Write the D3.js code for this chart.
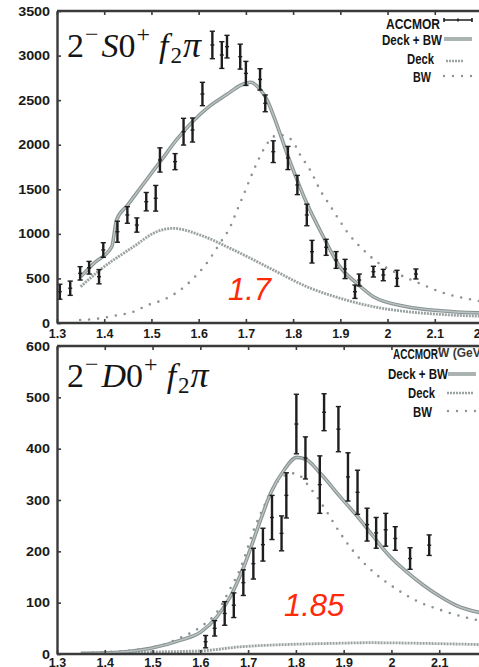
<!DOCTYPE html>
<html>
<head>
<meta charset="utf-8">
<script src="https://cdn.jsdelivr.net/npm/d3@7"></script>
<style>
body { margin: 0; background: #fff; }
svg { display: block; }
</style>
</head>
<body>
<script>
// ---- top panel: 2- S0+ f2 pi ----
var topMass = [1.306, 1.328, 1.349, 1.368, 1.389, 1.398, 1.428, 1.449, 1.469, 1.489, 1.509, 1.518, 1.550,
               1.568, 1.587, 1.608, 1.629, 1.649, 1.660, 1.688, 1.700, 1.730, 1.741, 1.758, 1.789, 1.809,
               1.829, 1.840, 1.870, 1.891, 1.910, 1.931, 1.940, 1.970, 1.991, 2.020, 2.060];
var topVal = [351, 390, 557, 620, 519, 819, 1024, 1212, 1099, 1361, 1399, 1829, 1810,
              2146, 2165, 2569, 3119, 3006, 3100, 2988, 2800, 2733, 2464, 1922, 1851, 1548,
              1212, 800, 849, 707, 606, 351, 482, 576, 538, 501, 550];
var topErr = [84, 80, 75, 71, 80, 82, 118, 93, 80, 103, 144, 136, 90,
              150, 135, 131, 154, 150, 127, 140, 135, 120, 94, 122, 130, 108,
              121, 127, 90, 94, 108, 75, 67, 60, 64, 90, 56];

var topFitMass = [1.35, 1.38, 1.416, 1.426, 1.45, 1.49, 1.52, 1.553, 1.589, 1.62, 1.66, 1.69, 1.71, 1.73,
                  1.745, 1.762, 1.787, 1.829, 1.864, 1.899, 1.935, 1.97, 2.041, 2.112, 2.2];
var topFitVal = [520, 678, 856, 1155, 1325, 1610, 1820, 2053, 2270, 2420, 2565, 2670, 2700, 2620,
                 2500, 2277, 1904, 1343, 968, 632, 445, 295, 183, 138, 112];

var topDeckMass = [1.35, 1.391, 1.462, 1.511, 1.546, 1.603, 1.674, 1.758, 1.829, 1.9, 1.97, 2.041, 2.111, 2.2];
var topDeckVal = [407, 595, 856, 1024, 1062, 987, 819, 595, 407, 277, 183, 127, 97, 75];

var topBWMass = [1.349, 1.391, 1.423, 1.462, 1.493, 1.529, 1.561, 1.589, 1.614, 1.645, 1.667, 1.681, 1.695,
                 1.709, 1.723, 1.741, 1.758, 1.772, 1.797, 1.815, 1.836, 1.861, 1.875, 1.893, 1.914,
                 1.949, 1.977, 2.013, 2.076, 2.111, 2.182, 2.2];
var topBWVal = [34, 52, 82, 127, 202, 269, 370, 501, 651, 894, 1081, 1260, 1436,
                1620, 1792, 1978, 2090, 2109, 2053, 1885, 1716, 1455, 1343, 1193, 1024,
                819, 688, 576, 426, 351, 258, 240];

// ---- bottom panel: 2- D0+ f2 pi ----
var botMass = [1.611, 1.630, 1.651, 1.670, 1.690, 1.711, 1.731, 1.750, 1.770, 1.780, 1.801, 1.820,
               1.850, 1.859, 1.889, 1.909, 1.929, 1.949, 1.968, 1.988, 2.008, 2.039, 2.079];
var botVal = [24, 50, 79, 95, 139, 176, 213, 266, 235, 309, 448, 382,
              330, 471, 438, 345, 315, 252, 236, 242, 225, 186, 212];
var botErr = [12, 15, 23, 24, 25, 30, 32, 43, 34, 44, 58, 41,
              56, 36, 44, 47, 43, 32, 30, 32, 23, 21, 20];

var botFitMass = [1.35, 1.45, 1.496, 1.559, 1.601, 1.635, 1.663, 1.691, 1.726, 1.747, 1.775, 1.802, 1.823,
                  1.851, 1.893, 1.935, 1.962, 1.997, 2.032, 2.067, 2.102, 2.137, 2.2];
var botFitVal = [1, 5, 11, 27, 43, 73, 112, 170, 261, 313, 358, 383, 378,
                 352, 306, 261, 229, 190, 160, 134, 112, 94, 78];

var botDeckMass = [1.35, 1.5, 1.6, 1.684, 1.8, 1.893, 1.95, 2.05, 2.2];
var botDeckVal = [2, 4, 6, 14, 19, 21, 22, 21, 18];

var botBWMass = [1.357, 1.496, 1.559, 1.601, 1.635, 1.663, 1.684, 1.712, 1.733, 1.750, 1.775, 1.792, 1.809,
                 1.821, 1.832, 1.844, 1.862, 1.893, 1.924, 1.962, 2.008, 2.056, 2.102, 2.161, 2.2];
var botBWVal = [2, 12, 32, 53, 82, 128, 167, 242, 287, 320, 347, 352, 347,
                334, 321, 306, 281, 235, 196, 160, 128, 102, 86, 70, 62];

var xTicks = [1.3, 1.4, 1.5, 1.6, 1.7, 1.8, 1.9, 2.0, 2.1, 2.2];
var topYTicks = [0, 500, 1000, 1500, 2000, 2500, 3000, 3500];
var botYTicks = [0, 100, 200, 300, 400, 500, 600];

var width = 479, height = 667;
var axisColor = "#3a3a3a";

var svg = d3.select("body").append("svg")
    .attr("width", width)
    .attr("height", height);

var defs = svg.append("defs");

function panel(opts) {
    var x = d3.scaleLinear().domain([1.3, 2.2]).range(opts.xRange);
    var y = d3.scaleLinear().domain(opts.yDomain).range(opts.yRange);

    defs.append("clipPath").attr("id", opts.id)
        .append("rect")
        .attr("x", opts.xRange[0]).attr("y", opts.yRange[1])
        .attr("width", width - opts.xRange[0])
        .attr("height", opts.yRange[0] - opts.yRange[1]);

    var g = svg.append("g");
    var plot = g.append("g").attr("clip-path", "url(#" + opts.id + ")");

    var line = d3.line()
        .x(function (d) { return x(d[0]); })
        .y(function (d) { return y(d[1]); })
        .curve(d3.curveMonotoneX);

    // Deck
    plot.append("path")
        .attr("d", line(d3.zip(opts.deckMass, opts.deckVal)))
        .attr("fill", "none")
        .attr("stroke", "#9aa2a2")
        .attr("stroke-width", 2.8)
        .attr("stroke-dasharray", "2,1");

    // BW
    plot.append("path")
        .attr("d", line(d3.zip(opts.bwMass, opts.bwVal)))
        .attr("fill", "none")
        .attr("stroke", "#8c9494")
        .attr("stroke-width", 2.6)
        .attr("stroke-linecap", "round")
        .attr("stroke-dasharray", "0,9");

    // Deck + BW
    var fit = line(d3.zip(opts.fitMass, opts.fitVal));
    plot.append("path").attr("d", fit)
        .attr("fill", "none").attr("stroke", "#8a9494").attr("stroke-width", 3.6);
    plot.append("path").attr("d", fit)
        .attr("fill", "none").attr("stroke", "#bcc3c3").attr("stroke-width", 1.4);

    // ACCMOR points
    var pts = plot.selectAll(".pt")
        .data(d3.zip(opts.mass, opts.val, opts.err))
        .enter().append("g")
        .attr("stroke", "#1e1e1e");
    pts.append("line")
        .attr("x1", function (d) { return x(d[0]); })
        .attr("x2", function (d) { return x(d[0]); })
        .attr("y1", function (d) { return y(d[1] - d[2]); })
        .attr("y2", function (d) { return y(d[1] + d[2]); })
        .attr("stroke-width", 2.4);
    [-1, 1].forEach(function (s) {
        pts.append("line")
            .attr("x1", function (d) { return x(d[0]) - 2.6; })
            .attr("x2", function (d) { return x(d[0]) + 2.6; })
            .attr("y1", function (d) { return y(d[1] + s * d[2]); })
            .attr("y2", function (d) { return y(d[1] + s * d[2]); })
            .attr("stroke-width", 1.4);
    });
    pts.append("line")
        .attr("x1", function (d) { return x(d[0]) - 2; })
        .attr("x2", function (d) { return x(d[0]) + 2; })
        .attr("y1", function (d) { return y(d[1]); })
        .attr("y2", function (d) { return y(d[1]); })
        .attr("stroke-width", 1.4);

    // axes
    var yAxis = g.append("g")
        .attr("transform", "translate(" + opts.xRange[0] + ",0)")
        .call(d3.axisLeft(y).tickValues(opts.yTicks).tickSize(-4).tickPadding(6).tickSizeOuter(0)
              .tickFormat(d3.format("d")));
    var xAxis = g.append("g")
        .attr("transform", "translate(0," + opts.yRange[0] + ")")
        .call(d3.axisBottom(x).tickValues(xTicks).tickSize(-4).tickPadding(opts.xPad).tickSizeOuter(0)
              .tickFormat(function (d) { return String(+d.toFixed(1)); }));
    var frame = g.append("g")
        .attr("transform", "translate(0," + opts.yRange[1] + ")")
        .call(d3.axisTop(x).tickValues(xTicks).tickSize(-4).tickSizeOuter(0).tickFormat(""));

    [yAxis, xAxis, frame].forEach(function (a) {
        a.select(".domain").attr("stroke", axisColor).attr("stroke-width", 2.4);
        a.selectAll(".tick line").attr("stroke", axisColor).attr("stroke-width", 1.6);
        a.selectAll("text")
            .attr("fill", "#1a1a1a")
            .style("font-family", "'Liberation Sans', Arial, sans-serif")
            .style("font-weight", "bold")
            .style("font-size", "12.5px");
    });
    yAxis.selectAll("text").attr("transform", "scale(1.15,1)");
    frame.select(".domain").attr("d", "M" + opts.xRange[0] + ",0H" + (width + 10));
    xAxis.select(".domain").attr("d", "M" + opts.xRange[0] + ",0H" + (width + 10));

    // title
    var t = g.append("text")
        .attr("x", opts.titleX).attr("y", opts.titleY)
        .style("font-family", "'Liberation Serif', 'Times New Roman', serif")
        .style("font-size", "34px")
        .attr("fill", "#151515");
    t.append("tspan").text("2");
    t.append("tspan").attr("dx", 1).attr("dy", -15).style("font-size", "24px").text("\u2212");
    t.append("tspan").attr("dx", 3).attr("dy", 15).style("font-style", "italic").text(opts.wave);
    t.append("tspan").text("0");
    t.append("tspan").attr("dx", 1).attr("dy", -15).style("font-size", "24px").text("+");
    t.append("tspan").attr("dx", 9).attr("dy", 15).style("font-style", "italic").text("f");
    t.append("tspan").attr("dx", 2).attr("dy", 6).style("font-size", "23px").text("2");
    t.append("tspan").attr("dx", 1).attr("dy", -6).style("font-style", "italic").style("font-size", "36px").text("\u03c0");

    // red mass label
    g.append("text")
        .attr("x", opts.massX).attr("y", opts.massY)
        .style("font-family", "'Liberation Sans', Arial, sans-serif")
        .style("font-style", "italic")
        .style("font-size", "31px")
        .attr("fill", "#ff2a0a")
        .text(opts.massLabel);

    return g;
}

var gTop = panel({
    id: "clipTop", xRange: [57, 482], yDomain: [0, 3500], yRange: [323, 11],
    yTicks: topYTicks, xPad: 6,
    mass: topMass, val: topVal, err: topErr,
    fitMass: topFitMass, fitVal: topFitVal,
    deckMass: topDeckMass, deckVal: topDeckVal,
    bwMass: topBWMass, bwVal: topBWVal,
    wave: "S", titleX: 67, titleY: 57,
    massLabel: "1.7", massX: 228, massY: 300
});

var gBot = panel({
    id: "clipBot", xRange: [57, 487], yDomain: [0, 600], yRange: [654, 346],
    yTicks: botYTicks, xPad: 4,
    mass: botMass, val: botVal, err: botErr,
    fitMass: botFitMass, fitVal: botFitVal,
    deckMass: botDeckMass, deckVal: botDeckVal,
    bwMass: botBWMass, bwVal: botBWVal,
    wave: "D", titleX: 67, titleY: 387,
    massLabel: "1.85", massX: 284, massY: 616
});

// legends
var legendFont = "'Liberation Sans', Arial, sans-serif";
function legendText(x, y, txt, len) {
    svg.append("text")
        .attr("x", x - len).attr("y", y)
        .attr("textLength", len).attr("lengthAdjust", "spacingAndGlyphs")
        .style("font-family", legendFont).style("font-weight", "bold").style("font-size", "14px")
        .attr("fill", "#151515")
        .text(txt);
}
function sample(type, x1, x2, y) {
    if (type === "acc") {
        svg.append("path")
            .attr("d", "M" + x1 + "," + y + "H" + x2 + "M" + x1 + "," + (y - 2) + "V" + (y + 2) +
                  "M" + x2 + "," + (y - 2) + "V" + (y + 2) + "M" + ((x1 + x2) / 2) + "," + (y - 1.5) + "V" + (y + 1.5))
            .attr("stroke", "#1e1e1e").attr("stroke-width", 1.6).attr("fill", "none");
    } else if (type === "fit") {
        svg.append("line").attr("x1", x1).attr("x2", x2).attr("y1", y).attr("y2", y)
            .attr("stroke", "#8a9494").attr("stroke-width", 3.4);
        svg.append("line").attr("x1", x1).attr("x2", x2).attr("y1", y).attr("y2", y)
            .attr("stroke", "#bcc3c3").attr("stroke-width", 1.3);
    } else if (type === "deck") {
        svg.append("line").attr("x1", x1).attr("x2", x2).attr("y1", y).attr("y2", y)
            .attr("stroke", "#9aa2a2").attr("stroke-width", 2.4).attr("stroke-dasharray", "2,1");
    } else {
        svg.append("line").attr("x1", x1).attr("x2", x2).attr("y1", y).attr("y2", y)
            .attr("stroke", "#8c9494").attr("stroke-width", 2.4).attr("stroke-linecap", "round")
            .attr("stroke-dasharray", "0,9");
    }
}

legendText(440, 29, "ACCMOR", 54);
sample("acc", 444, 472, 20);
legendText(442, 45, "Deck + BW", 60);
sample("fit", 444, 472, 39);
legendText(434, 64, "Deck", 27);
sample("deck", 446, 464, 61);
legendText(431, 82, "BW", 18);
sample("bw", 444, 472, 76);

// top panel x-axis title, overlapped by the lower legend
svg.append("text")
    .attr("x", 438).attr("y", 357)
    .style("font-family", legendFont).style("font-weight", "bold").style("font-size", "12px")
    .attr("fill", "#3a3a3a")
    .text("W (GeV)");

legendText(438, 359, "ACCMOR", 45);
legendText(448, 379, "Deck + BW", 60);
sample("fit", 448, 476, 374);
legendText(435, 398, "Deck", 27);
sample("deck", 447, 473, 393);
legendText(432, 417, "BW", 19);
sample("bw", 448, 476, 411);
</script>
</body>
</html>
